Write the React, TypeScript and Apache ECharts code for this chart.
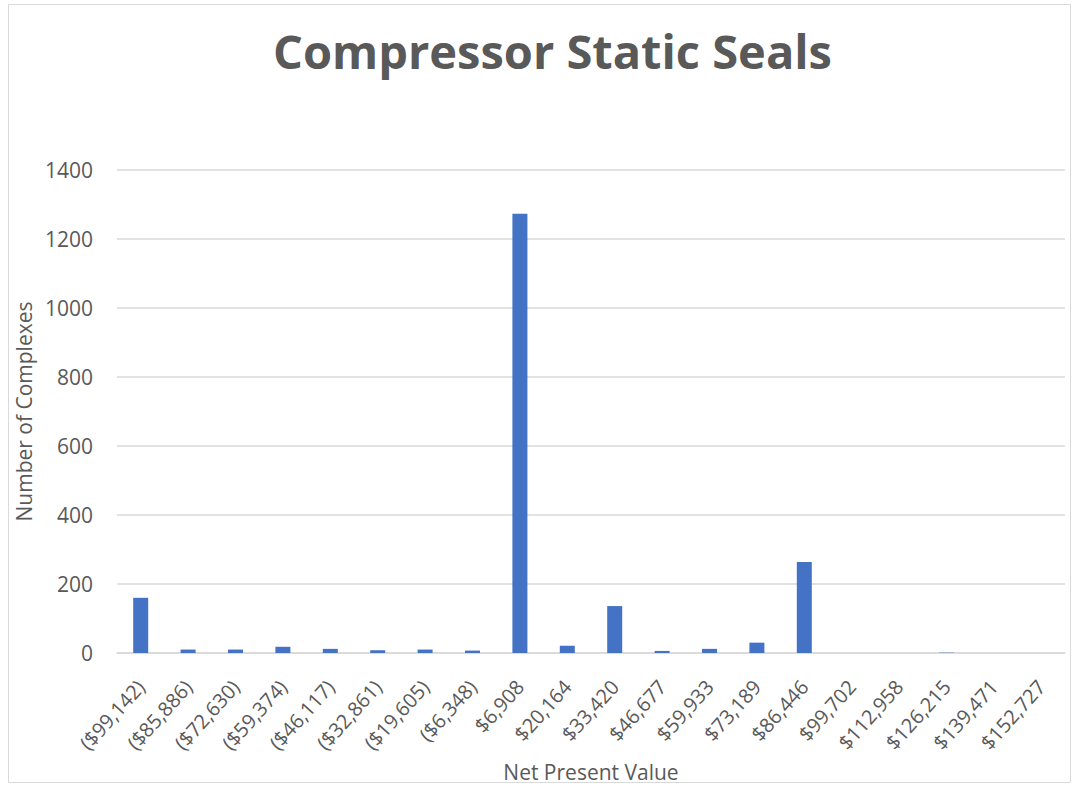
import React, { useEffect, useRef } from "react";
import * as echarts from "echarts";

const categories = [
  "($99,142)", "($85,886)", "($72,630)", "($59,374)", "($46,117)",
  "($32,861)", "($19,605)", "($6,348)", "$6,908", "$20,164",
  "$33,420", "$46,677", "$59,933", "$73,189", "$86,446",
  "$99,702", "$112,958", "$126,215", "$139,471", "$152,727",
];
const counts = [160, 10, 10, 18, 12, 8, 10, 7, 1273, 21, 136, 6, 12, 30, 264, 0, 0, 1, 0, 0];
const yTicks = [0, 200, 400, 600, 800, 1000, 1200, 1400];

const FONT = "'Open Sans', 'Noto Sans', sans-serif";
const GREY = "#595959";

export default function App() {
  const ref = useRef<HTMLDivElement>(null);
  useEffect(() => {
    if (!ref.current) return;
    const chart = echarts.init(ref.current, null, { renderer: "svg" });
    chart.setOption({
      animation: false,
      backgroundColor: "#ffffff",
      textStyle: { fontFamily: FONT },
      title: {
        text: "Compressor Static Seals",
        left: 268,
        top: 22,
        textStyle: { fontFamily: FONT, fontSize: 47, fontWeight: "bold", color: GREY },
      },
      graphic: [
        {
          type: "rect",
          shape: { x: 8.5, y: 4.5, width: 1062, height: 778 },
          style: { fill: "none", stroke: "#d9d9d9", lineWidth: 1 },
          silent: true,
        },
      ],
      grid: { left: 117, right: 10, top: 170, bottom: 134, containLabel: false, outerBoundsMode: "none" },
      xAxis: {
        type: "category",
        data: categories,
        name: "Net Present Value",
        nameLocation: "middle",
        nameGap: 108,
        nameTextStyle: { fontFamily: FONT, fontSize: 21, color: GREY },
        axisLine: { lineStyle: { color: "#d9d9d9", width: 1.5 } },
        axisTick: { show: false },
        axisLabel: { rotate: 48, interval: 0, fontSize: 20, color: GREY, margin: 30, fontFamily: FONT },
      },
      yAxis: {
        type: "value",
        min: 0,
        max: 1400,
        interval: 200,
        name: "Number of Complexes",
        nameLocation: "middle",
        nameGap: 78,
        nameTextStyle: { fontFamily: FONT, fontSize: 21, color: GREY },
        axisLine: { show: false },
        axisTick: { show: false },
        axisLabel: {
          fontSize: 21,
          color: GREY,
          margin: 24,
          fontFamily: FONT,
          formatter: (v: number) => (yTicks.includes(v) ? String(v) : ""),
        },
        splitLine: { lineStyle: { color: "#d9d9d9", width: 1.5 } },
      },
      series: [
        {
          type: "bar",
          data: counts,
          barWidth: 15,
          itemStyle: { color: "#4472C4" },
        },
      ],
    });
    return () => chart.dispose();
  }, []);
  return <div ref={ref} style={{ position: "fixed", left: 0, top: 0, width: 1075, height: 787 }} />;
}
